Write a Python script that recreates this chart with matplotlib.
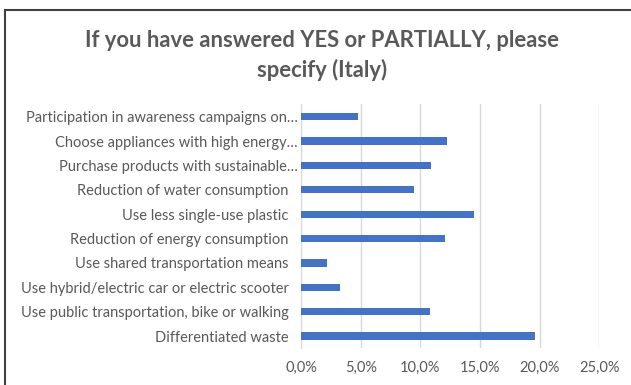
import matplotlib.pyplot as plt
import matplotlib.transforms as mtransforms
from matplotlib.ticker import FuncFormatter
from matplotlib.lines import Line2D

plt.rcParams['font.family'] = ['Lato', 'DejaVu Sans']

# bottom to top, as in the chart
categories = [
    "Differentiated waste",
    "Use public transportation, bike or walking",
    "Use hybrid/electric car or electric scooter",
    "Use shared transportation means",
    "Reduction of energy consumption",
    "Use less single-use plastic",
    "Reduction of water consumption",
    "Purchase products with sustainable\u2026",
    "Choose appliances with high energy\u2026",
    "Participation in awareness campaigns on\u2026",
]
values = [0.196, 0.108, 0.033, 0.022, 0.121, 0.145, 0.095, 0.109, 0.122, 0.048]
xticks = [0, 0.05, 0.10, 0.15, 0.20, 0.25]

gray = "#595959"

fig = plt.figure(figsize=(6.31, 3.85), dpi=100)
ax = fig.add_axes([0.477, 0.0956, 0.4728, 0.633])

ax.barh(range(len(categories)), values, height=0.3, color="#4472c4", zorder=3)
ax.set_ylim(-0.5, len(categories) - 0.5)
ax.set_xlim(0, 0.25)
ax.set_xticks(xticks)
ax.xaxis.set_major_formatter(FuncFormatter(lambda v, p: f"{v*100:.1f}%".replace(".", ",")))
ax.set_yticks(range(len(categories)))
ax.set_yticklabels(categories)

ax.grid(axis="x", color="#d9d9d9", linewidth=1, zorder=0)
for s in ["top", "right", "bottom"]:
    ax.spines[s].set_visible(False)
ax.spines["left"].set_color("#d9d9d9")
ax.tick_params(axis="both", length=0, labelsize=10.5, colors=gray)
ax.tick_params(axis="y", pad=9)
ax.tick_params(axis="x", pad=9)

# truncated labels sit a bit closer to the axis, like Excel does
shift = mtransforms.ScaledTranslation(9 / 100, 0, fig.dpi_scale_trans)
for lab in ax.get_yticklabels():
    if lab.get_text().endswith("\u2026"):
        lab.set_transform(lab.get_transform() + shift)

fig.text(0.51, 0.895, "If you have answered YES or PARTIALLY, please",
         ha="center", va="center", fontsize=15.8, fontweight="bold", color=gray)
fig.text(0.51, 0.818, "specify (Italy)",
         ha="center", va="center", fontsize=15.8, fontweight="bold", color=gray)

# partial chart frame (top and left edges)
fig.add_artist(Line2D([5 / 631, 1], [1 - 10 / 385, 1 - 10 / 385], color="#404040", linewidth=1.5))
fig.add_artist(Line2D([5 / 631, 5 / 631], [0, 1 - 10 / 385], color="#404040", linewidth=1.5))

fig.savefig("out.png", dpi=100, facecolor="white")
